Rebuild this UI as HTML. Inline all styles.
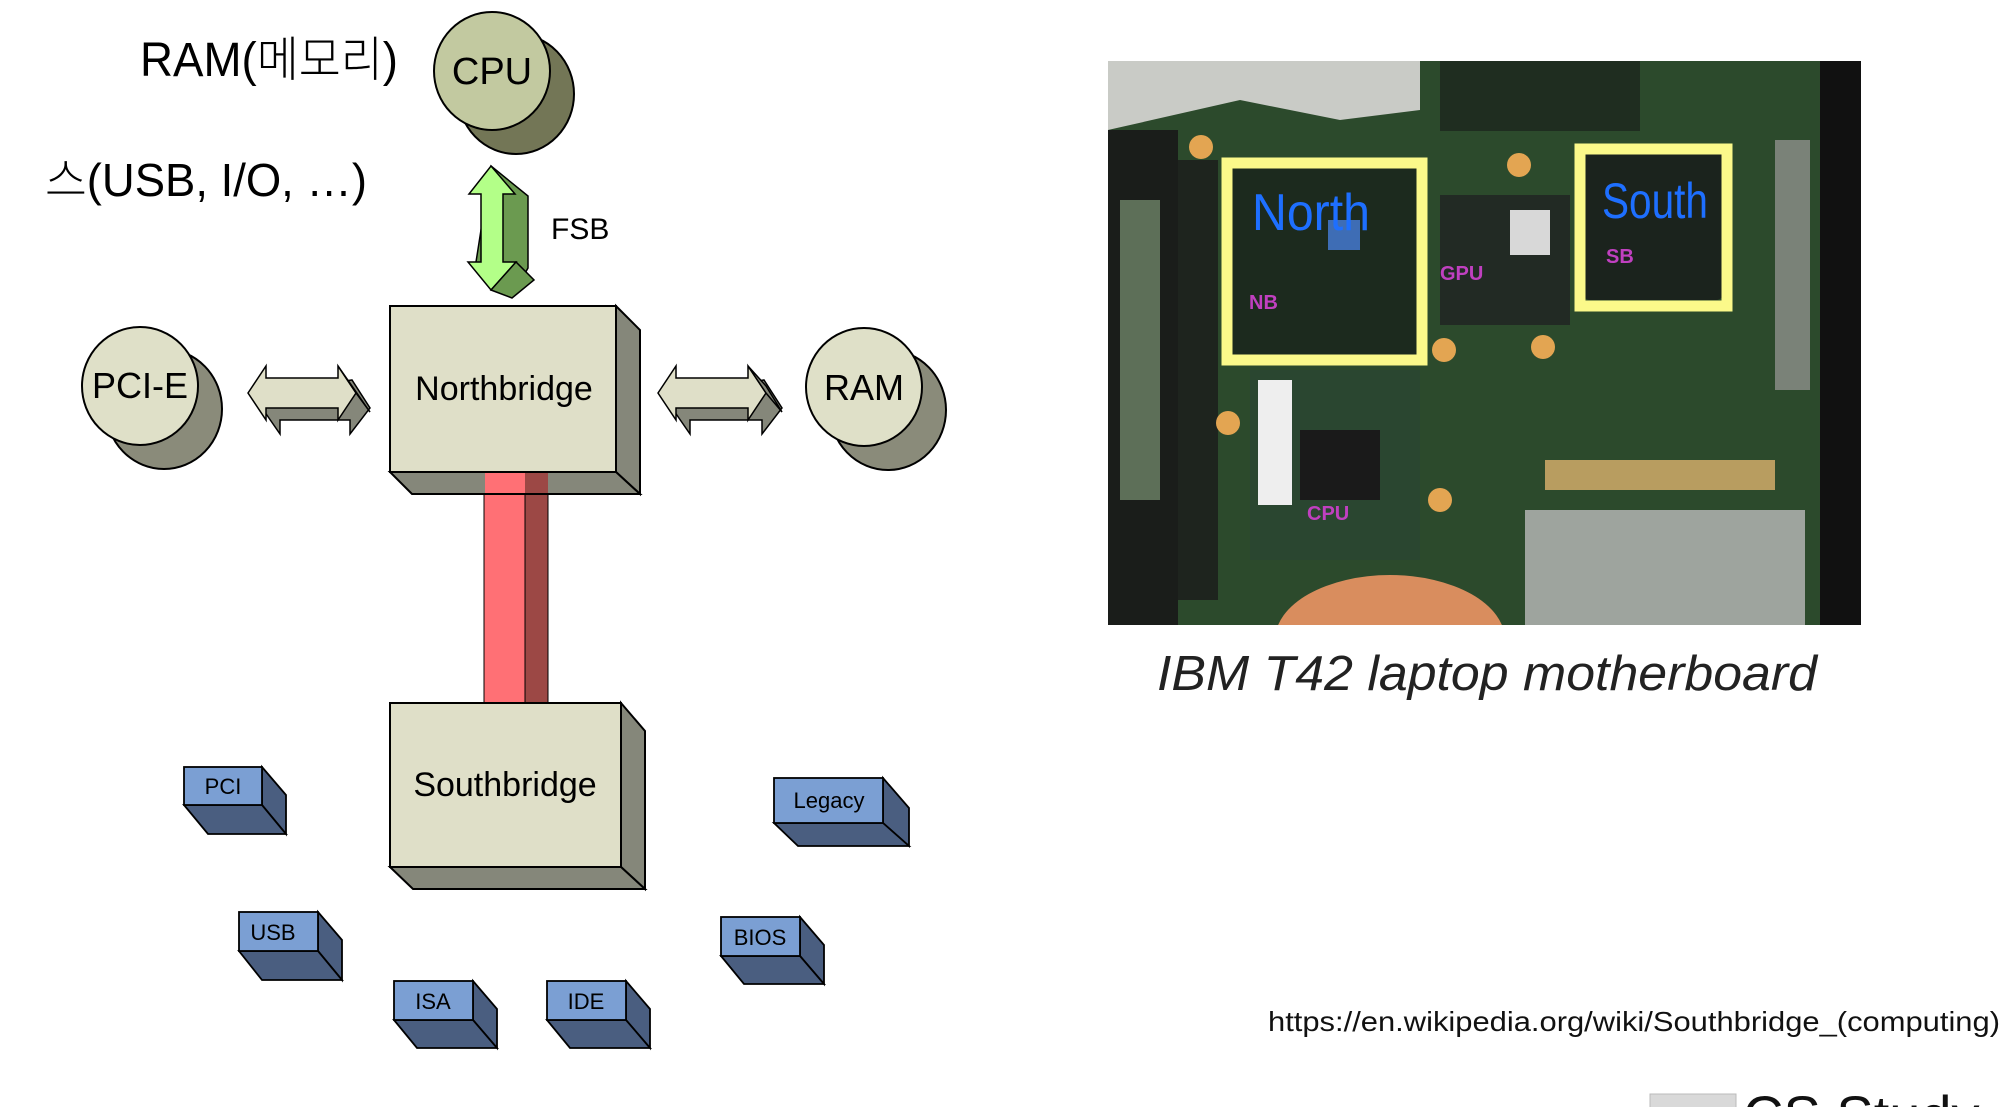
<!DOCTYPE html>
<html><head><meta charset="utf-8"><style>
html,body{margin:0;padding:0;background:#fff;}
svg{display:block;}
text{font-family:"Liberation Sans","Noto Sans CJK KR",sans-serif;}
</style></head><body>
<svg width="2000" height="1107" viewBox="0 0 2000 1107" xmlns="http://www.w3.org/2000/svg">
<defs><clipPath id="ph"><rect x="1108" y="61" width="753" height="564"/></clipPath></defs>
<!-- handwriting -->
<text x="140" y="76" font-size="48" font-weight="300" textLength="258" lengthAdjust="spacingAndGlyphs">RAM(메모리)</text>
<text x="45" y="196" font-size="46" font-weight="300" textLength="322" lengthAdjust="spacingAndGlyphs">스(USB, I/O, …)</text>

<!-- CPU -->
<ellipse cx="516" cy="94" rx="58" ry="60" fill="#737656" stroke="#000" stroke-width="2"/>
<ellipse cx="492" cy="71" rx="58" ry="59" fill="#c2c9a0" stroke="#000" stroke-width="2"/>
<text x="492" y="84" font-size="38" text-anchor="middle">CPU</text>

<!-- FSB arrow -->
<polygon points="491,166 528,196 528,268 512,296 476,262" fill="#6b9a50" stroke="#000" stroke-width="1.5"/>
<polygon points="491,166 515,194 503,194 503,262 516,262 491,290 468,262 481,262 481,194 469,194" fill="#b3ff88" stroke="#000" stroke-width="1.5"/>
<polygon points="491,290 516,262 534,280 512,298" fill="#6b9a50" stroke="#000" stroke-width="1.5"/>
<text x="551" y="239" font-size="30">FSB</text>

<!-- PCI-E -->
<ellipse cx="164" cy="409" rx="58" ry="60" fill="#8a8b7a" stroke="#000" stroke-width="2"/>
<ellipse cx="140" cy="386" rx="58" ry="59" fill="#dfe0c8" stroke="#000" stroke-width="2"/>
<text x="140" y="398" font-size="36" text-anchor="middle">PCI-E</text>

<!-- RAM -->
<ellipse cx="888" cy="410" rx="58" ry="60" fill="#8a8b7a" stroke="#000" stroke-width="2"/>
<ellipse cx="864" cy="387" rx="58" ry="59" fill="#dfe0c8" stroke="#000" stroke-width="2"/>
<text x="864" y="400" font-size="36" text-anchor="middle">RAM</text>

<!-- left horizontal arrow -->
<g stroke="#000" stroke-width="1.5">
<polygon points="262,408 280,434 280,420 350,420 350,434 370,408 352,380 260,394" fill="#85877a"/>
<polygon points="248,393 266,366 266,378 338,378 338,366 356,393 338,420 338,408 266,408 266,420" fill="#dfdfc8"/>
<polygon points="338,366 356,393 370,412 352,386" fill="#85877a"/>
</g>
<!-- right horizontal arrow -->
<g stroke="#000" stroke-width="1.5">
<polygon points="672,408 690,434 690,420 762,420 762,434 782,408 764,380 670,394" fill="#85877a"/>
<polygon points="658,393 676,366 676,378 748,378 748,366 766,393 748,420 748,408 676,408 676,420" fill="#dfdfc8"/>
<polygon points="748,366 766,393 782,412 766,386" fill="#85877a"/>
</g>

<!-- red bus -->
<rect x="484" y="470" width="41" height="233" fill="#ff7075" stroke="#000" stroke-width="1"/>
<rect x="525" y="470" width="23" height="233" fill="#9c4845" stroke="#000" stroke-width="1"/>

<!-- Northbridge -->
<g stroke="#000" stroke-width="2">
<polygon points="616,306 640,330 640,494 616,472" fill="#85877a"/>
<polygon points="390,472 616,472 640,494 412,494" fill="#85877a"/>
<rect x="390" y="306" width="226" height="166" fill="#dfdfc8"/>
</g>
<rect x="485" y="473" width="40" height="20" fill="#ff7075"/>
<rect x="525" y="473" width="23" height="20" fill="#9c4845"/>
<text x="504" y="400" font-size="34" text-anchor="middle">Northbridge</text>

<!-- Southbridge -->
<g stroke="#000" stroke-width="2">
<polygon points="621,703 645,731 645,889 621,867" fill="#85877a"/>
<polygon points="390,867 621,867 645,889 413,889" fill="#85877a"/>
<rect x="390" y="703" width="231" height="164" fill="#dfdfc8"/>
</g>
<text x="505" y="796" font-size="34" text-anchor="middle">Southbridge</text>

<!-- small blue boxes -->
<g stroke="#000" stroke-width="1.8" font-size="22">
<g transform="translate(184,767)">
<polygon points="78,0 102,28 102,67 78,38" fill="#4a5e80"/>
<polygon points="0,38 78,38 102,67 24,67" fill="#4a5e80"/>
<rect x="0" y="0" width="78" height="38" fill="#7b9fd3"/>
<text x="39" y="27" stroke="none" text-anchor="middle">PCI</text>
</g>
<g transform="translate(774,778)">
<polygon points="109,0 135,30 135,68 109,45" fill="#4a5e80"/>
<polygon points="0,45 109,45 135,68 24,68" fill="#4a5e80"/>
<rect x="0" y="0" width="109" height="45" fill="#7b9fd3"/>
<text x="55" y="30" stroke="none" text-anchor="middle">Legacy</text>
</g>
<g transform="translate(239,912)">
<polygon points="79,0 103,28 103,68 79,39" fill="#4a5e80"/>
<polygon points="0,39 79,39 103,68 23,68" fill="#4a5e80"/>
<rect x="0" y="0" width="79" height="39" fill="#7b9fd3"/>
<text x="34" y="28" stroke="none" text-anchor="middle">USB</text>
</g>
<g transform="translate(721,917)">
<polygon points="79,0 103,28 103,67 79,39" fill="#4a5e80"/>
<polygon points="0,39 79,39 103,67 23,67" fill="#4a5e80"/>
<rect x="0" y="0" width="79" height="39" fill="#7b9fd3"/>
<text x="39" y="28" stroke="none" text-anchor="middle">BIOS</text>
</g>
<g transform="translate(394,981)">
<polygon points="79,0 103,28 103,67 79,39" fill="#4a5e80"/>
<polygon points="0,39 79,39 103,67 23,67" fill="#4a5e80"/>
<rect x="0" y="0" width="79" height="39" fill="#7b9fd3"/>
<text x="39" y="28" stroke="none" text-anchor="middle">ISA</text>
</g>
<g transform="translate(547,981)">
<polygon points="79,0 103,28 103,67 79,39" fill="#4a5e80"/>
<polygon points="0,39 79,39 103,67 23,67" fill="#4a5e80"/>
<rect x="0" y="0" width="79" height="39" fill="#7b9fd3"/>
<text x="39" y="28" stroke="none" text-anchor="middle">IDE</text>
</g>
</g>

<!-- photo -->
<g clip-path="url(#ph)">
<rect x="1108" y="61" width="753" height="564" fill="#2c4a2c"/>
<polygon points="1108,61 1420,61 1420,110 1340,120 1240,100 1108,130" fill="#c9cbc6"/>
<rect x="1108" y="130" width="70" height="495" fill="#1a1d1a"/>
<rect x="1120" y="200" width="40" height="300" fill="#5d6f58"/>
<rect x="1178" y="160" width="40" height="440" fill="#1e241e"/>
<rect x="1820" y="61" width="41" height="564" fill="#111"/>
<rect x="1775" y="140" width="35" height="250" fill="#7a8278"/>
<rect x="1440" y="61" width="200" height="70" fill="#1f2d20"/>
<rect x="1228" y="165" width="192" height="193" fill="#1c2a1e"/>
<rect x="1328" y="220" width="32" height="30" fill="#3e6db5"/>
<rect x="1440" y="195" width="130" height="130" fill="#222a24"/>
<rect x="1510" y="210" width="40" height="45" fill="#d8d8d8"/>
<rect x="1582" y="150" width="142" height="150" rx="8" fill="#1b231d"/>
<rect x="1250" y="370" width="170" height="190" fill="#2a4630"/>
<rect x="1258" y="380" width="34" height="125" fill="#eee"/>
<rect x="1300" y="430" width="80" height="70" fill="#1a1a1a"/>
<rect x="1545" y="460" width="230" height="30" fill="#b89d60"/>
<rect x="1525" y="510" width="280" height="115" fill="#9ea49e"/>
<ellipse cx="1390" cy="640" rx="115" ry="65" fill="#d98d5e"/>
<g fill="#e3a552"><circle cx="1201" cy="147" r="12"/><circle cx="1519" cy="165" r="12"/><circle cx="1444" cy="350" r="12"/><circle cx="1543" cy="347" r="12"/><circle cx="1228" cy="423" r="12"/><circle cx="1440" cy="500" r="12"/></g>
<rect x="1227" y="163" width="195" height="197" fill="none" stroke="#fbf98a" stroke-width="11"/>
<rect x="1580" y="149" width="147" height="157" fill="none" stroke="#fbf98a" stroke-width="11"/>
<text x="1252" y="230" font-size="52" fill="#1e6fff" textLength="118" lengthAdjust="spacingAndGlyphs">North</text>
<text x="1602" y="218" font-size="50" fill="#1e6fff" textLength="106" lengthAdjust="spacingAndGlyphs">South</text>
<g fill="#c040c0" font-size="20" font-weight="bold">
<text x="1249" y="309">NB</text><text x="1440" y="280">GPU</text><text x="1606" y="263">SB</text><text x="1307" y="520">CPU</text>
</g>
</g>

<text x="1157" y="690" font-size="49" font-style="italic" fill="#222" textLength="660" lengthAdjust="spacingAndGlyphs">IBM T42 laptop motherboard</text>
<text x="1268" y="1031" font-size="28" fill="#111" textLength="732" lengthAdjust="spacingAndGlyphs">https://en.wikipedia.org/wiki/Southbridge_(computing)</text>

<rect x="1650" y="1094" width="86" height="20" fill="#d9d9d9" stroke="#bbb"/>
<text x="1743" y="1135" font-size="56" fill="#111">CS Study</text>
</svg>
</body></html>
